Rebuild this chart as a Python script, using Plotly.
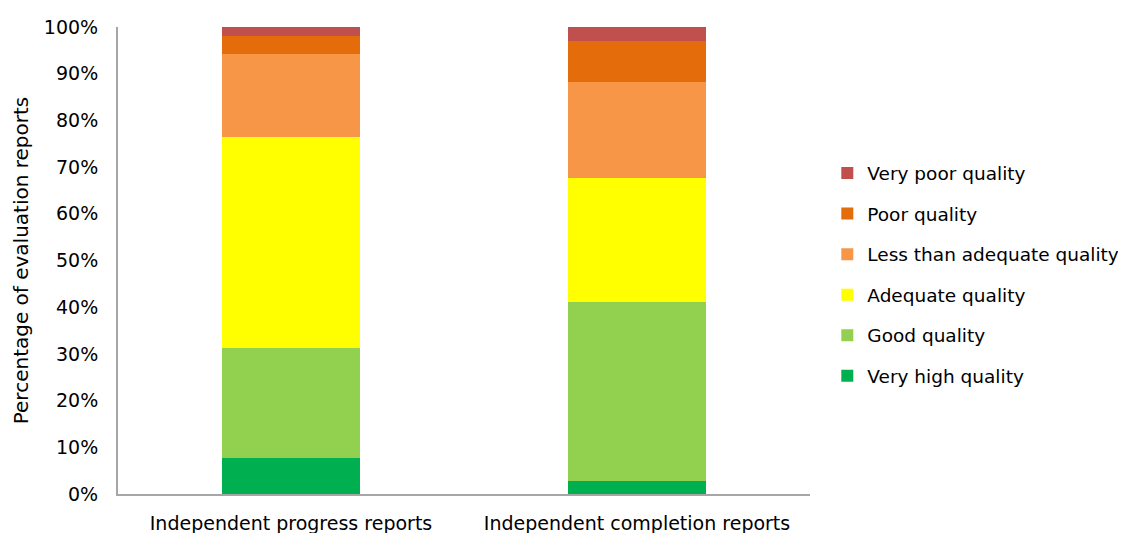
import plotly.graph_objects as go

categories = ["Independent progress reports", "Independent completion reports"]
series_names = ["Very high quality", "Good quality", "Adequate quality",
                "Less than adequate quality", "Poor quality", "Very poor quality"]
very_high = [7.7, 2.8]
good = [23.6, 38.3]
adequate = [45.2, 26.6]
less_than_adequate = [17.7, 20.6]
poor = [3.8, 8.8]
very_poor = [2.0, 2.9]
colors = ["#00B050", "#92D050", "#FFFF00", "#F79646", "#E46C0A", "#C0504D"]

values = [very_high, good, adequate, less_than_adequate, poor, very_poor]
font_family = "DejaVu Sans, Liberation Sans, sans-serif"

fig = go.Figure()
n = len(series_names)
for i, (name, vals, col) in enumerate(zip(series_names, values, colors)):
    fig.add_trace(go.Bar(
        x=categories, y=[v / 100 for v in vals], name=name,
        marker=dict(color=col, line=dict(width=0)),
        legendgroup=name, legendrank=n - i,
    ))

fig.update_layout(
    barmode="stack",
    bargap=0.6,
    width=1118, height=525,
    margin=dict(l=110, r=316, t=19, b=39, autoexpand=False),
    paper_bgcolor="white", plot_bgcolor="white",
    font=dict(family=font_family, size=19, color="#000000"),
    legend=dict(
        traceorder="grouped", tracegroupgap=13.5,
        x=1.025, xanchor="left", y=0.47, yanchor="middle",
        font=dict(size=18.5), itemwidth=30,
    ),
    showlegend=True,
)
fig.update_yaxes(
    range=[0, 1], tickformat=".0%", dtick=0.1,
    showgrid=False, zeroline=False, automargin=False,
    showline=True, linecolor="#A6A6A6", linewidth=2,
    ticks="", tickfont=dict(size=19), ticklabelstandoff=14,
    title=dict(text="Percentage of evaluation reports", font=dict(size=20), standoff=10),
)
fig.update_xaxes(
    showgrid=False, showline=True, linecolor="#A6A6A6", linewidth=2,
    automargin=False,
    ticks="", tickfont=dict(size=19), ticklabelstandoff=11,
)

fig.write_html("out.html")
